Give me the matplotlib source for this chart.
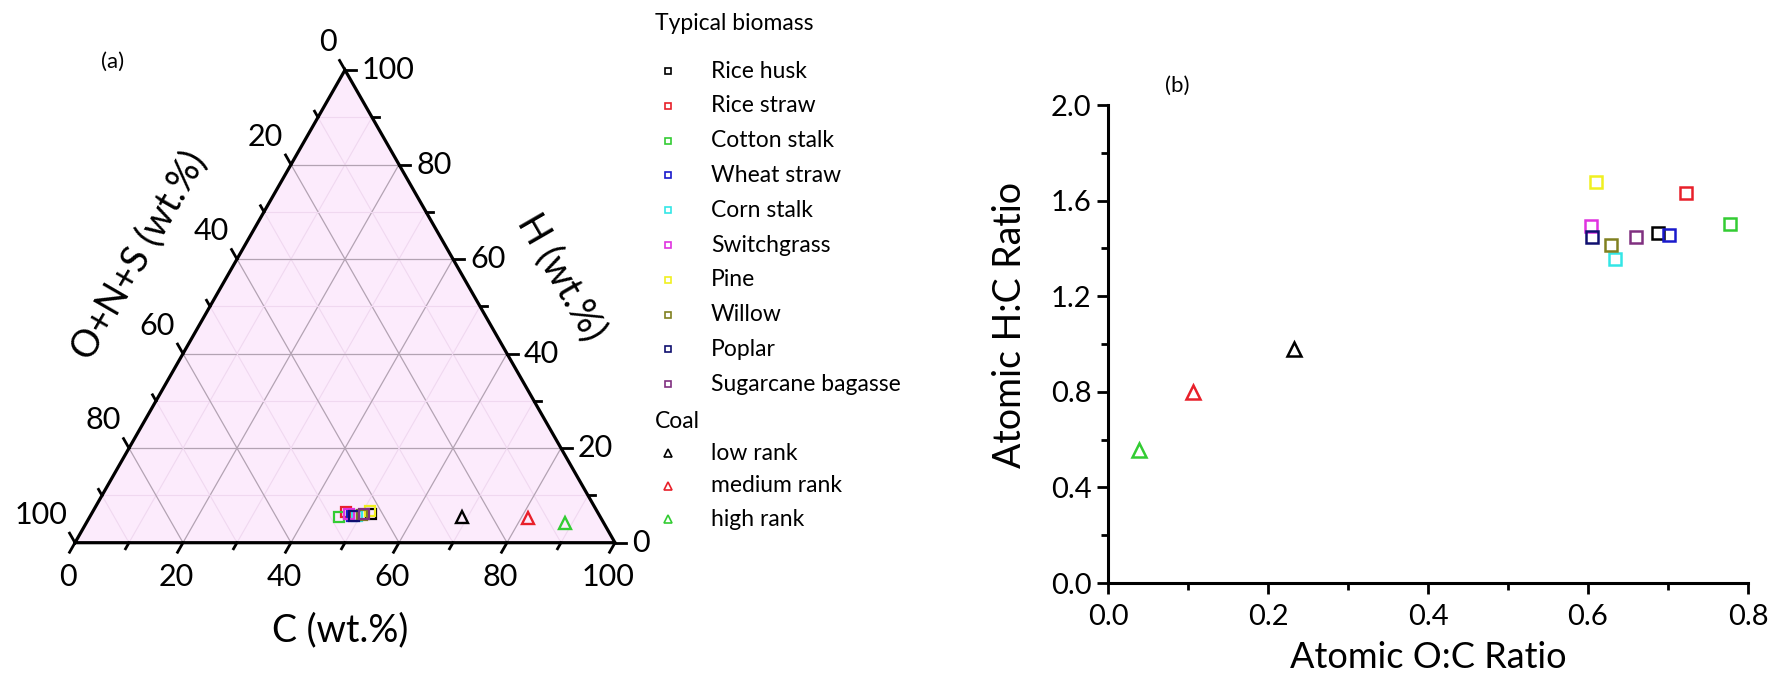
import numpy as np
import matplotlib
matplotlib.use("Agg")
import matplotlib.pyplot as plt
from matplotlib.transforms import offset_copy

plt.rcParams['font.family'] = ['Lato', 'DejaVu Sans']

# ---------------- data ----------------
biomass_names = ["Rice husk", "Rice straw", "Cotton stalk", "Wheat straw", "Corn stalk",
                 "Switchgrass", "Pine", "Willow", "Poplar", "Sugarcane bagasse"]
biomass_colors = ["#000000", "#e8202a", "#33cc33", "#1a1acc", "#33e6e6",
                  "#e033e0", "#f0f020", "#808020", "#101070", "#803080"]
# ternary composition (wt.%)
biomass_C = [51.8, 46.9, 46.1, 48.5, 49.3, 47.7, 51.2, 50.2, 48.8, 50.5]
biomass_H = [6.0, 6.6, 5.5, 5.7, 5.75, 6.1, 6.7, 5.9, 5.7, 6.0]
# van Krevelen ratios
biomass_OC = [0.688, 0.723, 0.777, 0.701, 0.634, 0.604, 0.610, 0.629, 0.605, 0.660]
biomass_HC = [1.464, 1.632, 1.503, 1.456, 1.354, 1.495, 1.679, 1.416, 1.448, 1.448]

coal_names = ["low rank", "medium rank", "high rank"]
coal_colors = ["#000000", "#e8202a", "#33cc33"]
coal_C = [69.0, 81.2, 88.7]
coal_H = [5.4, 5.3, 4.2]
coal_OC = [0.232, 0.106, 0.039]
coal_HC = [0.979, 0.800, 0.557]

tern_ticks = [0, 20, 40, 60, 80, 100]
vk_xticks = [0.0, 0.2, 0.4, 0.6, 0.8]
vk_yticks = [0.0, 0.4, 0.8, 1.2, 1.6, 2.0]

# ---------------- figure ----------------
W, H = 1776, 673
fig = plt.figure(figsize=(W / 100, H / 100), dpi=100)

# ternary axes geometry (pixels)
L, R, B, T = 75.0, 615.0, 542.7, 70.0
axt = fig.add_axes([L / W, (H - B) / H, (R - L) / W, (B - T) / H])
axt.set_xlim(0, 1)
axt.set_ylim(0, 1)
axt.axis('off')
PXX, PXY = R - L, B - T


def tern(c, h):
    c = np.asarray(c, float) / 100.0
    h = np.asarray(h, float) / 100.0
    return c + h / 2.0, h


# fill
axt.fill([0, 1, 0.5], [0, 0, 1], color='#fcebfc', zorder=0, lw=0)

# grid lines
for v in range(10, 100, 10):
    f = v / 100.0
    major = (v % 20 == 0)
    col = '#b3a3b3' if major else '#f0d8f0'
    lw = 0.9 if major else 0.8
    axt.plot([f, f + (1 - f) / 2], [0, 1 - f], color=col, lw=lw, zorder=1)
    axt.plot([f / 2, 1 - f / 2], [f, f], color=col, lw=lw, zorder=1)
    axt.plot([1 - f, (1 - f) / 2], [0, 1 - f], color=col, lw=lw, zorder=1)

# border
axt.plot([0, 1, 0.5, 0], [0, 0, 1, 0], color='black', lw=2.3, zorder=3,
         solid_joinstyle='miter', clip_on=False)


def seg(x, y, dxp, dyp, length):
    axt.plot([x, x + dxp * length / PXX], [y, y + dyp * length / PXY],
             color='black', lw=2.0, clip_on=False, zorder=3)


ux, uy = 270.0 / np.hypot(270, 472.7), 472.7 / np.hypot(270, 472.7)
for v in range(0, 101, 10):
    f = v / 100.0
    ln = 11 if v % 20 == 0 else 7
    seg(f, 0, -ux, -uy, ln)                 # bottom (C)
    seg(1 - f / 2, f, 1, 0, ln)             # right (H)
    seg((1 - f) / 2, 1 - f, -ux, uy, ln)    # left (O+N+S)

fs_tick = 22
for v in tern_ticks:
    f = v / 100.0
    tr = offset_copy(axt.transData, fig=fig, x=-7, y=-34, units='dots')
    axt.text(f, 0, str(v), transform=tr, ha='center', va='center', fontsize=fs_tick)
    tr = offset_copy(axt.transData, fig=fig, x=17, y=0, units='dots')
    axt.text(1 - f / 2, f, str(v), transform=tr, ha='left', va='center', fontsize=fs_tick)
    tr = offset_copy(axt.transData, fig=fig, x=-8, y=28, units='dots')
    axt.text((1 - f) / 2, 1 - f, str(v), transform=tr, ha='right', va='center', fontsize=fs_tick)


def ftext(x, y, s, **kw):
    fig.text(x / W, 1 - y / H, s, **kw)


ftext(340, 630, "C (wt.%)", ha='center', va='center', fontsize=27)
ftext(139, 255, "O+N+S (wt.%)", ha='center', va='center', fontsize=27, rotation=60)
ftext(561, 277, "H (wt.%)", ha='center', va='center', fontsize=27, rotation=-60)
ftext(113, 62, "(a)", ha='center', va='center', fontsize=16)

# data points in ternary
bx, by = tern(biomass_C, biomass_H)
for i in range(len(biomass_names)):
    axt.plot(bx[i], by[i], marker='s', ms=6.5, mfc='none', mec=biomass_colors[i],
             mew=1.6, ls='none', zorder=4, clip_on=False)
cx, cy = tern(coal_C, coal_H)
for i in range(len(coal_names)):
    axt.plot(cx[i], cy[i], marker='^', ms=9, mfc='none', mec=coal_colors[i],
             mew=1.7, ls='none', zorder=4, clip_on=False)

# ---------------- legend (overlay) ----------------
axl = fig.add_axes([0, 0, 1, 1])
axl.set_xlim(0, W)
axl.set_ylim(H, 0)
axl.axis('off')
fs_leg = 16.5
axl.text(655, 24, "Typical biomass", ha='left', va='center', fontsize=fs_leg)
y0, dy = 71, 34.8
for i, name in enumerate(biomass_names):
    yy = y0 + i * dy
    axl.plot(668, yy, marker='s', ms=5, mfc='none', mec=biomass_colors[i], mew=1.2)
    axl.text(711, yy, name, ha='left', va='center', fontsize=fs_leg)
axl.text(655, 422, "Coal", ha='left', va='center', fontsize=fs_leg)
for i, name in enumerate(coal_names):
    yy = 453 + i * 33
    axl.plot(668, yy, marker='^', ms=6, mfc='none', mec=coal_colors[i], mew=1.2)
    axl.text(711, yy, name, ha='left', va='center', fontsize=fs_leg)

# ---------------- van Krevelen ----------------
x0p, x1p, y0p, y1p = 1108, 1748, 583, 105
axb = fig.add_axes([x0p / W, (H - y0p) / H, (x1p - x0p) / W, (y0p - y1p) / H])
for i in range(len(biomass_names)):
    axb.plot(biomass_OC[i], biomass_HC[i], marker='s', ms=8.5, mfc='none',
             mec=biomass_colors[i], mew=1.8, ls='none', clip_on=False)
for i in range(len(coal_names)):
    axb.plot(coal_OC[i], coal_HC[i], marker='^', ms=10, mfc='none',
             mec=coal_colors[i], mew=1.8, ls='none', clip_on=False)
axb.set_xlim(0, 0.8)
axb.set_ylim(0, 2.0)
axb.set_xticks(vk_xticks)
axb.set_yticks(vk_yticks)
axb.set_xticklabels([f"{v:.1f}" for v in vk_xticks])
axb.set_yticklabels([f"{v:.1f}" for v in vk_yticks])
axb.set_xticks(np.arange(0.1, 0.8, 0.2), minor=True)
axb.set_yticks(np.arange(0.2, 2.0, 0.4), minor=True)
for s in ['top', 'right']:
    axb.spines[s].set_visible(False)
for s in ['left', 'bottom']:
    axb.spines[s].set_linewidth(2.2)
axb.tick_params(which='major', direction='out', length=8, width=2.0, labelsize=21)
axb.tick_params(axis='x', which='major', pad=7)
axb.tick_params(axis='y', which='major', pad=4)
axb.tick_params(which='minor', direction='out', length=5, width=2.0)
axb.set_xlabel("Atomic O:C Ratio", fontsize=26, labelpad=8)
axb.set_ylabel("Atomic H:C Ratio", fontsize=27, labelpad=6)
axb.yaxis.set_label_coords(-0.125, 0.54)
axb.text(0.086, 2.08, "(b)", ha='center', va='center', fontsize=16, clip_on=False)

fig.savefig("out.png", dpi=100)
